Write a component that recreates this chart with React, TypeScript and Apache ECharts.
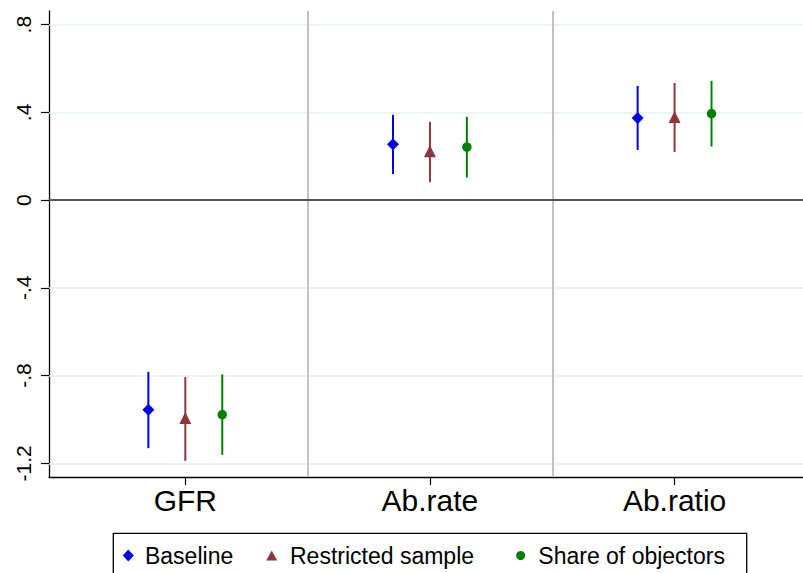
import React, { useEffect, useRef } from "react";
import * as echarts from "echarts";

const categories = ["GFR", "Ab.rate", "Ab.ratio"];
const seriesNames = ["Baseline", "Restricted sample", "Share of objectors"];

const baselinePoint = [-0.956, 0.255, 0.375];
const baselineLow = [-1.131, 0.119, 0.229];
const baselineHigh = [-0.783, 0.389, 0.521];

const restrictedPoint = [-0.993, 0.223, 0.379];
const restrictedLow = [-1.189, 0.082, 0.22];
const restrictedHigh = [-0.807, 0.357, 0.534];

const objectorsPoint = [-0.978, 0.242, 0.395];
const objectorsLow = [-1.161, 0.103, 0.244];
const objectorsHigh = [-0.795, 0.38, 0.544];

const yTickValues = [-1.2, -0.8, -0.4, 0, 0.4, 0.8];
const yTickLabels = ["-1.2", "-.8", "-.4", "0", ".4", ".8"];
const xTickValues = [1, 2, 3];
const separatorValues = [1.5, 2.5];

const FONT = "'Liberation Sans', Arial, Helvetica, sans-serif";

const groups = [
  { name: seriesNames[0], point: baselinePoint, low: baselineLow, high: baselineHigh, color: "#0000e6", symbol: "diamond", size: 12, offset: -0.151 },
  { name: seriesNames[1], point: restrictedPoint, low: restrictedLow, high: restrictedHigh, color: "#90353b", symbol: "triangle", size: 12, offset: 0 },
  { name: seriesNames[2], point: objectorsPoint, low: objectorsLow, high: objectorsHigh, color: "#008000", symbol: "circle", size: 9.5, offset: 0.151 },
];

export default function App() {
  const ref = useRef<HTMLDivElement>(null);
  useEffect(() => {
    if (!ref.current) return;
    const chart = echarts.init(ref.current, null, { renderer: "svg" });

    const series: any[] = [];
    // guide lines
    series.push({
      type: "scatter",
      name: "guides",
      data: [],
      z: 1,
      silent: true,
      markLine: {
        silent: true,
        z: 1,
        symbol: ["none", "none"],
        label: { show: false },
        animation: false,
        data: [
          ...yTickValues.filter((v) => v !== 0).map((v) => ({ yAxis: v, lineStyle: { color: "#e6eff1", width: 1.5, type: "solid" } })),
          ...separatorValues.map((v) => ({ xAxis: v, lineStyle: { color: "#c2c2c2", width: 2, type: "solid" } })),
          { yAxis: 0, lineStyle: { color: "#555555", width: 2, type: "solid" } },
        ],
      },
    });
    groups.forEach((g) => {
      series.push({
        type: "custom",
        name: g.name + " CI",
        z: 3,
        silent: true,
        encode: { x: 0, y: [1, 2] },
        data: categories.map((_, i) => [i + 1 + g.offset, g.low[i], g.high[i]]),
        renderItem: (params: any, api: any) => {
          const x = api.value(0);
          const p1 = api.coord([x, api.value(1)]);
          const p2 = api.coord([x, api.value(2)]);
          return {
            type: "line",
            shape: { x1: p1[0], y1: p1[1], x2: p2[0], y2: p2[1] },
            style: { stroke: g.color, lineWidth: 2 },
          };
        },
      });
    });
    groups.forEach((g) => {
      series.push({
        type: "scatter",
        name: g.name,
        z: 4,
        symbol: g.symbol,
        symbolSize: g.size,
        itemStyle: { color: g.color, opacity: 1 },
        data: categories.map((_, i) => [i + 1 + g.offset, g.point[i]]),
      });
    });

    const legendLefts = [122.8, 266.2, 516.2];
    const legendWidths = [11, 11, 9];
    const legendHeights = [12, 10, 9];
    const legendTextPad = [6.2, 7.8, 8.1];

    chart.setOption({
      animation: false,
      grid: { left: 49, right: 0, top: 11, bottom: 96, containLabel: false },
      xAxis: {
        type: "value",
        min: 0.4428,
        max: 3.525,
        axisLine: { show: true, onZero: false, lineStyle: { color: "#000", width: 1.3 } },
        axisTick: { show: true, customValues: xTickValues, length: 8, lineStyle: { color: "#000", width: 1.2 } },
        axisLabel: {
          customValues: xTickValues,
          formatter: (v: number) => categories[Math.round(v) - 1] ?? "",
          fontSize: 30,
          fontFamily: FONT,
          color: "#000",
          margin: 8,
        },
        splitLine: { show: false },
      },
      yAxis: {
        type: "value",
        min: -1.2625,
        max: 0.8625,
        axisLine: { show: true, onZero: false, lineStyle: { color: "#000", width: 1.3 } },
        axisTick: { show: true, customValues: yTickValues, length: 8, lineStyle: { color: "#000", width: 1.2 } },
        axisLabel: {
          customValues: yTickValues,
          rotate: 90,
          formatter: (v: number) => {
            const i = yTickValues.findIndex((t) => Math.abs(t - v) < 1e-6);
            return i >= 0 ? yTickLabels[i] : "";
          },
          fontSize: 21,
          fontFamily: FONT,
          color: "#000",
          margin: 15,
        },
        splitLine: { show: false },
      },
      legend: groups.map((g, i) => ({
        show: true,
        left: legendLefts[i],
        top: 544,
        padding: 0,
        itemWidth: legendWidths[i],
        itemHeight: legendHeights[i],
        selectedMode: false,
        data: [g.name],
        textStyle: { fontSize: 23, fontFamily: FONT, color: "#000", padding: [0, 0, 0, legendTextPad[i]] },
      })),
      graphic: [
        {
          type: "rect",
          shape: { x: 113.3, y: 533.3, width: 633.4, height: 60 },
          style: { fill: "none", stroke: "#000", lineWidth: 1.3 },
          silent: true,
        },
      ],
      series,
    });
    return () => chart.dispose();
  }, []);
  return <div ref={ref} style={{ position: "fixed", left: 0, top: 0, width: 803, height: 573, background: "#fff" }} />;
}
